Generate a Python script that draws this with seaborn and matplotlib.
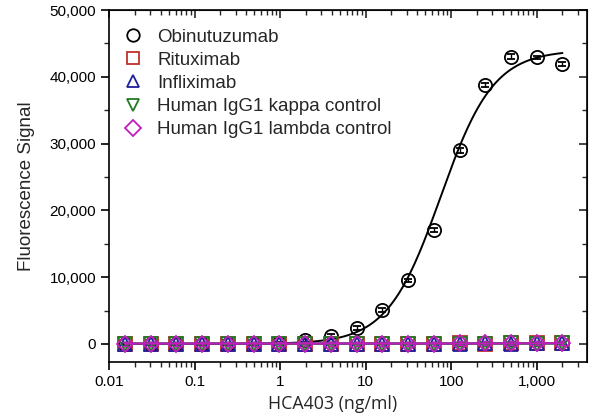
import numpy as np
import pandas as pd
import matplotlib
matplotlib.use('Agg')
import matplotlib.pyplot as plt
import matplotlib.ticker as mticker
from matplotlib.lines import Line2D
import seaborn as sns

# concentrations (2-fold dilution series from 2000 ng/ml)
conc = [0.0153, 0.0305, 0.061, 0.122, 0.244, 0.488, 0.977, 1.95, 3.91, 7.81,
        15.6, 31.25, 62.5, 125, 250, 500, 1000, 2000]

obinutuzumab = [0, 0, 0, 0, 0, 0, 150, 550, 1200, 2450,
                5100, 9500, 17100, 29000, 38800, 43000, 42900, 41900]
obinu_err = [100, 100, 100, 100, 100, 100, 200, 250, 300, 300,
             250, 250, 300, 350, 300, 400, 250, 350]
rituximab = [60, 50, 40, 50, 40, 50, 60, 50, 60, 50, 60, 50, 60, 70, 60, 80, 90, 100]
infliximab = [50, 40, 50, 40, 50, 40, 50, 60, 50, 60, 50, 60, 50, 60, 70, 60, 70, 80]
kappa_ctrl = [40, 50, 40, 50, 40, 50, 40, 50, 40, 50, 60, 50, 60, 50, 60, 70, 60, 70]
lambda_ctrl = [50, 50, 50, 50, 50, 50, 50, 50, 60, 60, 60, 60, 60, 70, 70, 80, 90, 120]
ctrl_err = 300

# 4PL fit parameters for the Obinutuzumab curve
fit_bottom = 0
fit_top = 44000
fit_ec50 = 75
fit_hill = 1.4

series = [
    ('Rituximab', rituximab, '#c0302a', 's'),
    ('Infliximab', infliximab, '#1f1f9a', '^'),
    ('Human IgG1 kappa control', kappa_ctrl, '#237a23', 'v'),
    ('Human IgG1 lambda control', lambda_ctrl, '#c01cc0', 'D'),
]

sns.set_style('ticks')
plt.rcParams['font.family'] = ['Liberation Sans', 'DejaVu Sans']

fig = plt.figure(figsize=(6, 4.17), dpi=100)
ax = fig.add_axes([0.182, 0.132, 0.796, 0.844])

# fitted curve
xfit = np.logspace(np.log10(conc[0]), np.log10(conc[-1]), 300)
yfit = fit_bottom + (fit_top - fit_bottom) / (1 + (fit_ec50 / xfit) ** fit_hill)
sns.lineplot(x=xfit, y=yfit, ax=ax, color='black', lw=1.4, zorder=2)

# Obinutuzumab points
ax.errorbar(conc, obinutuzumab, yerr=obinu_err, fmt='o', ms=9.5, mfc='none',
            mec='black', mew=1.3, ecolor='black', elinewidth=1, capsize=3, zorder=3)

# control antibodies
for name, vals, col, mk in series:
    df = pd.DataFrame({'conc': conc, 'signal': vals})
    sns.lineplot(data=df, x='conc', y='signal', ax=ax, color=col, lw=1.4,
                 marker=mk, markersize=9.5 if mk != 'D' else 8.5, markerfacecolor='none',
                 markeredgecolor=col, markeredgewidth=1.3, zorder=4)
    ax.errorbar(conc, vals, yerr=ctrl_err, fmt='none', ecolor=col, elinewidth=1,
                capsize=2.5, zorder=4)

ax.set_xscale('log')
ax.set_xlim(0.01, 3850)
ax.set_ylim(-2700, 50000)

ax.xaxis.set_major_locator(mticker.LogLocator(base=10, numticks=10))
ax.xaxis.set_minor_locator(mticker.LogLocator(base=10, subs=np.arange(2, 10), numticks=20))
ax.xaxis.set_minor_formatter(mticker.NullFormatter())
ax.xaxis.set_major_formatter(mticker.FuncFormatter(
    lambda v, p: '{:,.0f}'.format(v) if v >= 1 else '{:g}'.format(v)))
ax.yaxis.set_major_locator(mticker.MultipleLocator(10000))
ax.yaxis.set_minor_locator(mticker.MultipleLocator(5000))
ax.yaxis.set_major_formatter(mticker.FuncFormatter(lambda v, p: '{:,.0f}'.format(v)))

ax.tick_params(axis='both', which='major', direction='out', length=6, width=1.2,
               labelsize=11, colors='black', top=False, right=False)
ax.tick_params(axis='both', which='minor', direction='out', length=3.5, width=1,
               top=False, right=False)
for s in ax.spines.values():
    s.set_linewidth(1.2)
    s.set_color('black')

# inward ticks on the top and right spines
axt = ax.secondary_xaxis('top')
axt.set_xticks(ax.get_xticks(minor=False))
axt.xaxis.set_minor_locator(mticker.LogLocator(base=10, subs=np.arange(2, 10), numticks=20))
axt.tick_params(which='major', direction='in', length=6, width=1.2, labeltop=False)
axt.tick_params(which='minor', direction='in', length=3.5, width=1)
axr = ax.secondary_yaxis('right')
axr.yaxis.set_major_locator(mticker.MultipleLocator(10000))
axr.yaxis.set_minor_locator(mticker.MultipleLocator(5000))
axr.tick_params(which='major', direction='in', length=6, width=1.2, labelright=False)
axr.tick_params(which='minor', direction='in', length=3.5, width=1)

ax.set_ylabel('Fluorescence Signal', fontsize=13.5)
ax.yaxis.set_label_coords(-0.155, 0.5)
ax.set_xlabel('HCA403 (ng/ml)', fontsize=12.8, family=['Open Sans', 'DejaVu Sans'])
ax.xaxis.set_label_coords(0.467, -0.095)

handles = [Line2D([], [], ls='none', marker='o', ms=9, mfc='none', mec='black', mew=1.3)]
for name, vals, col, mk in series:
    handles.append(Line2D([], [], ls='none', marker=mk, ms=9 if mk != 'D' else 8,
                          mfc='none', mec=col, mew=1.3))
labels = ['Obinutuzumab'] + [s[0] for s in series]
ax.legend(handles, labels, loc='upper left', bbox_to_anchor=(-0.005, 0.995), frameon=False,
          fontsize=13.5, handlelength=1.0, handletextpad=0.8, labelspacing=0.32,
          borderaxespad=0.5)

fig.savefig('out.png', dpi=100)
